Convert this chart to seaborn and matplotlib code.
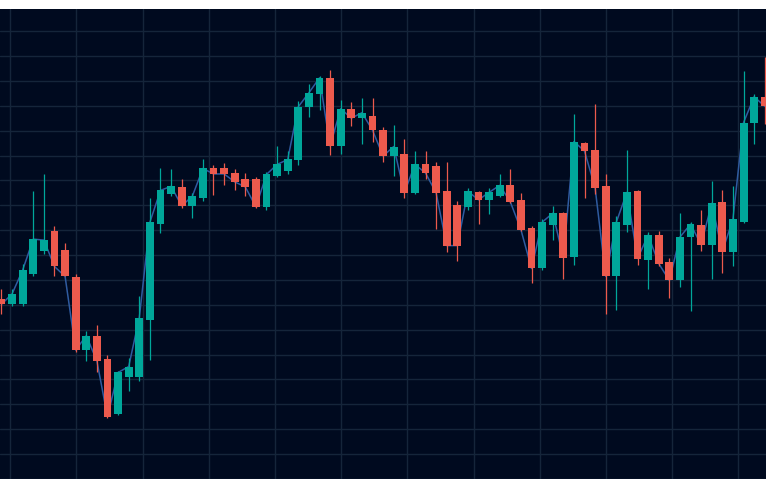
import numpy as np
import pandas as pd
import seaborn as sns
import matplotlib
matplotlib.use("Agg")
import matplotlib.pyplot as plt

# candle values (arbitrary price units)
opens = [141.2, 140.1, 140.1, 146.2, 150.9, 154.8, 151.0, 145.6, 130.9, 133.8,
         129.2, 118.1, 125.5, 125.5, 136.9, 156.3, 162.2, 163.6, 159.9, 161.5,
         167.4, 167.4, 166.4, 165.2, 165.2, 159.7, 165.9, 166.9, 169.1, 179.7,
         182.3, 185.6, 171.9, 179.4, 177.5, 178.0, 175.2, 169.9, 170.4, 162.5,
         168.2, 167.8, 162.8, 160.0, 159.7, 162.6, 161.1, 161.9, 164.0, 161.0,
         155.4, 147.3, 156.1, 158.4, 149.7, 172.6, 171.2, 163.8, 145.7, 156.1,
         162.8, 149.1, 154.0, 148.7, 144.9, 153.7, 156.0, 152.1, 160.6, 150.7,
         156.7, 176.5, 181.8]
highs = [143.2, 143.2, 148.2, 162.8, 166.2, 155.8, 152.4, 146.2, 134.8, 136.0,
         130.0, 126.8, 129.4, 141.8, 161.4, 167.4, 167.2, 165.2, 162.4, 169.2,
         168.0, 168.4, 167.2, 166.4, 165.6, 166.6, 172.0, 171.0, 181.0, 184.4,
         186.0, 187.2, 181.2, 180.8, 181.6, 181.6, 175.8, 176.2, 173.4, 171.0,
         171.0, 168.6, 168.6, 160.8, 163.4, 162.8, 163.4, 166.2, 167.2, 162.4,
         155.8, 157.2, 159.8, 158.6, 178.4, 172.8, 180.4, 166.2, 157.8, 171.2,
         163.0, 154.6, 154.8, 149.5, 158.4, 156.6, 159.0, 164.8, 163.0, 163.8,
         187.0, 182.4, 189.8]
lows = [138.1, 139.7, 139.7, 145.8, 150.3, 145.8, 145.7, 130.5, 128.7, 126.5,
        117.3, 117.9, 122.6, 124.7, 128.9, 154.5, 161.9, 159.5, 157.5, 160.9,
        162.1, 164.1, 163.1, 161.9, 159.5, 159.1, 165.7, 166.3, 168.1, 177.7,
        179.1, 170.1, 170.3, 175.9, 172.3, 172.7, 168.7, 165.9, 161.5, 162.3,
        165.3, 155.3, 150.7, 148.9, 159.1, 156.3, 158.3, 161.7, 160.5, 154.9,
        144.3, 146.9, 153.1, 145.1, 147.9, 161.5, 162.3, 138.1, 138.9, 154.7,
        148.1, 143.1, 147.7, 141.3, 143.5, 138.7, 150.9, 145.1, 146.3, 147.7,
        156.5, 172.3, 176.3]
closes = [140.1, 142.2, 147.0, 153.2, 153.0, 147.7, 145.7, 130.9, 133.8, 128.7,
          117.5, 126.4, 127.6, 137.4, 156.6, 163.0, 163.8, 159.9, 161.8, 167.4,
          166.3, 166.3, 164.7, 163.7, 159.7, 166.2, 168.2, 169.2, 179.8, 182.6,
          185.6, 171.9, 179.4, 177.5, 178.6, 175.1, 169.9, 171.8, 162.5, 168.2,
          166.5, 162.5, 151.9, 151.9, 162.8, 161.1, 162.6, 164.0, 160.7, 155.1,
          147.3, 156.6, 158.4, 149.5, 172.8, 170.9, 163.5, 145.7, 156.6, 162.6,
          149.3, 154.0, 148.3, 144.9, 153.6, 156.2, 152.1, 160.4, 150.7, 157.2,
          176.6, 181.8, 179.9]

df = pd.DataFrame({"open": opens, "high": highs, "low": lows, "close": closes})
df["t"] = np.arange(len(df))
df["up"] = df["close"] >= df["open"]

bg = "#000a1f"
up_col = "#00a79a"
down_col = "#ec5a4d"

sns.set_style("dark", {"axes.facecolor": bg, "grid.color": "#15253a"})

fig = plt.figure(figsize=(7.66, 4.79), dpi=100, facecolor="white")
ax = fig.add_axes([0, 0, 1, 470 / 479])
ax.set_facecolor(bg)

# thin close line behind the candles
sns.lineplot(data=df, x="t", y="close", ax=ax, color="#2f5ba0", linewidth=1.1, zorder=2)

colors = np.where(df["up"], up_col, down_col)
ax.vlines(df["t"], df["low"], df["high"], colors=colors, linewidth=0.9, zorder=3)
body_lo = df[["open", "close"]].min(axis=1)
body_h = (df["open"] - df["close"]).abs()
ax.bar(df["t"], body_h, bottom=body_lo, width=0.75, color=colors, linewidth=0, zorder=4)

ax.set_xlim(-0.14, 72.12)
ax.set_ylim(105.44, 199.44)
ax.set_xticks(np.arange(0.83, 72.5, 6.243))
ax.set_yticks(np.arange(105, 200, 5))
ax.grid(True, color="#15253a", linewidth=1.0, zorder=0)
ax.set_axisbelow(True)
ax.tick_params(length=0, labelbottom=False, labelleft=False)
ax.set_xlabel("")
ax.set_ylabel("")
for s in ax.spines.values():
    s.set_visible(False)

fig.savefig("out.png", dpi=100, facecolor="white")
